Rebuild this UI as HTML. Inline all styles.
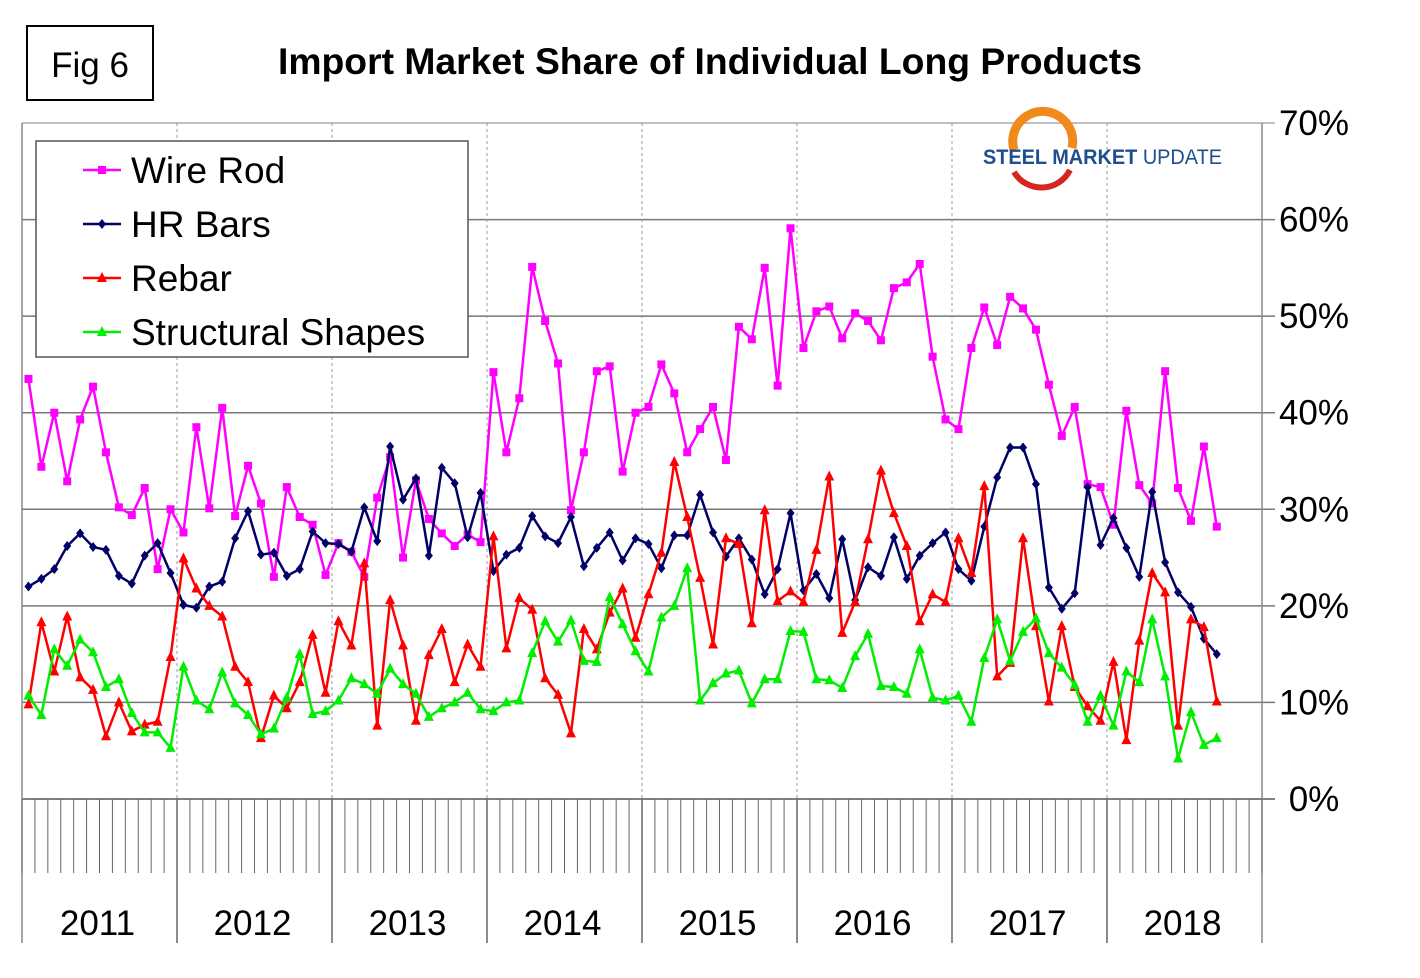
<!DOCTYPE html>
<html><head><meta charset="utf-8"><style>
html,body{margin:0;padding:0;background:#fff;}
body{width:1420px;height:973px;overflow:hidden;font-family:"Liberation Sans",Arial,sans-serif;}
</style></head><body>
<svg id="chart" width="1420" height="973" viewBox="0 0 1420 973" xmlns="http://www.w3.org/2000/svg" font-family="Liberation Sans, Arial, sans-serif">
<rect x="27" y="26" width="126" height="74" fill="#fff" stroke="#000" stroke-width="2"/>
<text x="90" y="77" font-size="35" text-anchor="middle">Fig 6</text>
<text x="710" y="74" font-size="37" font-weight="bold" text-anchor="middle" textLength="864" lengthAdjust="spacingAndGlyphs">Import Market Share of Individual Long Products</text>
<g id="grid"></g>
<g id="series"></g>
<g>
<path d="M1014,150 A30,30 0 1 1 1072,148" fill="none" stroke="#f08a1c" stroke-width="9"/>
<path d="M1014,172 A32,32 0 0 0 1070,170" fill="none" stroke="#d7261e" stroke-width="6"/>
<text x="983" y="164" font-size="21" font-weight="bold" fill="#1f4e8c" textLength="239" lengthAdjust="spacingAndGlyphs">STEEL MARKET <tspan font-weight="normal">UPDATE</tspan></text>
</g>
<g>
<rect x="36" y="141" width="432" height="216" fill="#fff" stroke="#555" stroke-width="1.5"/>
<g id="legend-items"></g>
</g>
</svg>
<script>
const categories = [];
for (let y = 2011; y <= 2018; y++) for (let m = 1; m <= 12; m++) { if (y === 2018 && m > 9) break; categories.push(y + '-' + m); }
const years = ['2011','2012','2013','2014','2015','2016','2017','2018'];
const yTicks = [0,10,20,30,40,50,60,70];
const yTickLabels = ['0%','10%','20%','30%','40%','50%','60%','70%'];
const wireRod = [43.5,34.4,40,32.9,39.3,42.7,35.9,30.2,29.4,32.2,23.8,30,27.6,38.5,30.1,40.5,29.3,34.5,30.6,23,32.3,29.2,28.4,23.2,26.5,25.6,23,31.2,35.4,25,33,29,27.5,26.2,27.4,26.6,44.2,35.9,41.5,55.1,49.5,45.1,29.9,35.9,44.3,44.8,33.9,40,40.6,45,42,35.9,38.3,40.6,35.1,48.9,47.6,55,42.8,59.1,46.7,50.5,51,47.7,50.3,49.5,47.5,52.9,53.5,55.4,45.8,39.3,38.3,46.7,50.9,47,52,50.8,48.6,42.9,37.6,40.6,32.6,32.3,28.4,40.2,32.5,30.6,44.3,32.2,28.8,36.5,28.2];
const hrBars = [22,22.8,23.8,26.2,27.5,26.1,25.8,23.1,22.3,25.2,26.5,23.4,20.1,19.8,22,22.5,27,29.8,25.3,25.5,23.1,23.8,27.7,26.5,26.4,25.6,30.2,26.7,36.5,31,33.2,25.2,34.3,32.7,27.1,31.7,23.6,25.3,26,29.3,27.2,26.5,29.2,24.1,26,27.6,24.7,27,26.4,23.9,27.3,27.3,31.5,27.6,25.1,27,24.8,21.2,23.8,29.6,21.6,23.3,20.8,26.9,20.6,24,23.1,27.1,22.8,25.2,26.5,27.6,23.8,22.6,28.2,33.3,36.4,36.4,32.6,21.9,19.7,21.3,32.3,26.3,29.1,26,23,31.8,24.5,21.4,19.9,16.6,15];
const rebar = [9.8,18.3,13.2,18.9,12.6,11.3,6.5,10,7,7.7,8,14.7,24.9,21.8,20,18.9,13.7,12.1,6.3,10.7,9.4,12.1,17,11,18.4,15.9,24.4,7.6,20.6,15.9,8.1,14.9,17.6,12.1,16,13.7,27.2,15.6,20.8,19.6,12.5,10.8,6.8,17.6,15.5,19.3,21.8,16.7,21.2,25.5,34.9,29.2,22.9,16,27,26.4,18.2,29.9,20.5,21.5,20.4,25.8,33.4,17.2,20.4,26.9,34,29.6,26.2,18.4,21.2,20.4,27,23.4,32.4,12.7,14.1,27,17.9,10.1,17.9,11.6,9.6,8.1,14.2,6.1,16.4,23.4,21.4,7.6,18.6,17.8,10.1];
const structural = [10.7,8.7,15.5,13.8,16.5,15.2,11.6,12.4,8.9,6.9,6.9,5.3,13.7,10.2,9.3,13.1,9.9,8.7,6.7,7.3,10.5,15,8.8,9.1,10.2,12.5,11.9,10.9,13.5,11.9,10.9,8.5,9.4,10,11,9.3,9.1,10,10.2,15.1,18.4,16.3,18.5,14.3,14.2,20.9,18.1,15.3,13.2,18.8,20,23.9,10.2,12,13,13.3,9.9,12.4,12.4,17.4,17.3,12.4,12.3,11.5,14.8,17.1,11.7,11.6,10.9,15.5,10.5,10.2,10.7,8,14.6,18.6,14.3,17.3,18.7,15.1,13.6,11.8,8,10.7,7.6,13.2,12.1,18.6,12.7,4.2,9,5.6,6.3];

const NS = 'http://www.w3.org/2000/svg';
const X0 = 22, X1 = 1262, Y0 = 799, Y70 = 123;
const monthW = (X1 - X0) / 96;
const xPos = i => X0 + (i + 0.5) * monthW;
const yPos = v => Y0 - v * (Y0 - Y70) / 70;
function mk(tag, attrs, parent) { const e = document.createElementNS(NS, tag); for (const k in attrs) e.setAttribute(k, attrs[k]); parent.appendChild(e); return e; }

const grid = document.getElementById('grid');
yTicks.forEach((t, i) => {
  const y = yPos(t);
  const l = mk('line', {x1: X0, x2: 1275, y1: y, y2: y, stroke: i === 0 ? '#555' : (t === 70 ? '#aaa' : '#777'), 'stroke-width': 1.5}, grid);
  
  
  const tx = mk('text', {x: 1314, y: y + 12, 'font-size': 35, 'text-anchor': 'middle'}, grid);
  tx.textContent = yTickLabels[i];
  
  
});
mk('line', {x1: X0, x2: X0, y1: Y70, y2: 943, stroke: '#888', 'stroke-width': 1.5}, grid);
mk('line', {x1: X1, x2: X1, y1: Y70, y2: 943, stroke: '#888', 'stroke-width': 1.5}, grid);
for (let m = 0; m <= 96; m++) {
  const x = X0 + m * monthW;
  mk('line', {x1: x, x2: x, y1: Y0, y2: 873, stroke: '#666', 'stroke-width': 1}, grid);
}
years.forEach((yr, k) => {
  const x = X0 + k * 12 * monthW;
  if (k > 0) {
    mk('line', {x1: x, x2: x, y1: Y70, y2: Y0, stroke: '#999', 'stroke-width': 1, 'stroke-dasharray': '3,3'}, grid);
    mk('line', {x1: x, x2: x, y1: Y0, y2: 943, stroke: '#666', 'stroke-width': 1.5}, grid);
  }
  const tx = mk('text', {x: x + 6 * monthW - 2, y: 935, 'font-size': 35, 'text-anchor': 'middle'}, grid);
  tx.textContent = yr;
  
  
});

const seriesDefs = [
  {name: 'Wire Rod', data: wireRod, color: '#ff00ff', marker: 'square', key: 'wire-rod'},
  {name: 'HR Bars', data: hrBars, color: '#000066', marker: 'diamond', key: 'hr-bars'},
  {name: 'Rebar', data: rebar, color: '#ff0000', marker: 'triangle', key: 'rebar'},
  {name: 'Structural Shapes', data: structural, color: '#00ee00', marker: 'triangle', key: 'structural-shapes'}
];
function marker(type, x, y, color, parent) {
  let e;
  if (type === 'square') e = mk('rect', {x: x - 4, y: y - 4, width: 8, height: 8, fill: color}, parent);
  else if (type === 'diamond') e = mk('polygon', {points: `${x},${y-5} ${x+4},${y} ${x},${y+5} ${x-4},${y}`, fill: color}, parent);
  else e = mk('polygon', {points: `${x},${y-6} ${x+5},${y+4} ${x-5},${y+4}`, fill: color}, parent);
  return e;
}
const sg = document.getElementById('series');
const lg = document.getElementById('legend-items');
seriesDefs.forEach((s, si) => {
  const g = mk('g', {}, sg);
  
  
  const pts = s.data.map((v, i) => xPos(i) + ',' + yPos(v)).join(' ');
  mk('polyline', {points: pts, fill: 'none', stroke: s.color, 'stroke-width': 2.5, 'stroke-linejoin': 'round'}, g);
  s.data.forEach((v, i) => {
    const m = marker(s.marker, xPos(i), yPos(v), s.color, g);
    
    
  });
  const ly = 170 + si * 54;
  const le = mk('g', {}, lg);
  
  
  mk('line', {x1: 83, x2: 121, y1: ly, y2: ly, stroke: s.color, 'stroke-width': 2.5}, le);
  marker(s.marker, 102, ly, s.color, le);
  const t = mk('text', {x: 131, y: ly + 13, 'font-size': 37}, le);
  t.textContent = s.name;
});
</script>
</body></html>
